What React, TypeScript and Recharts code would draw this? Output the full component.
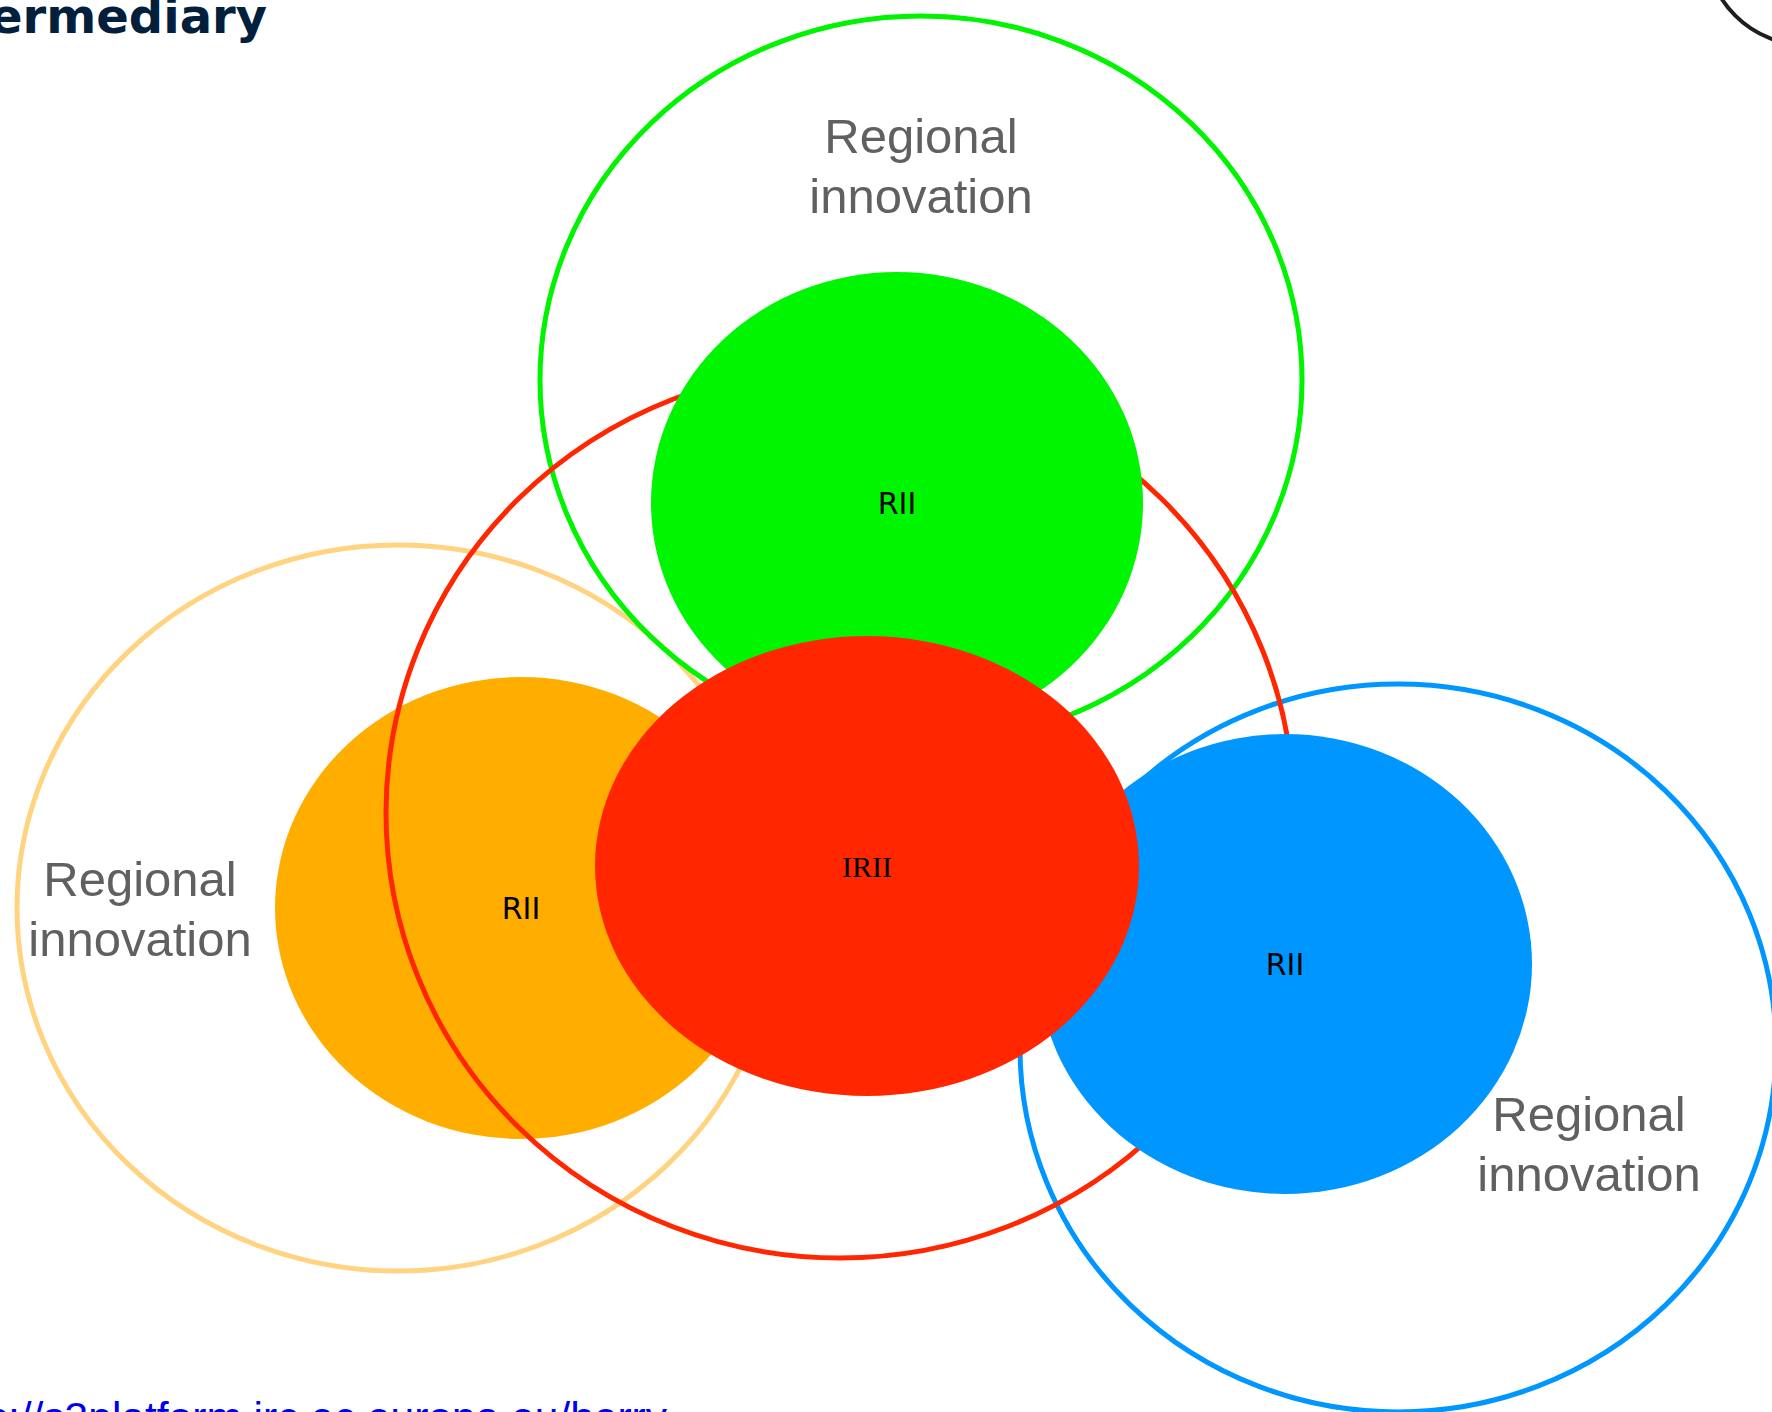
import React from "react";
import { ScatterChart, Scatter, XAxis, YAxis } from "recharts";

const W = 1772;
const H = 1412;

// Diagram coordinate system (units match the picture: 0..1772 x 0..1412)
const outlineOrange = [{ x: 398, y: 908, rx: 381, ry: 363 }];
const outlineGreen = [{ x: 921, y: 380, rx: 381, ry: 364 }];
const outlineBlue = [{ x: 1398, y: 1048, rx: 378, ry: 364 }];
const outlineRed = [{ x: 840, y: 813, rx: 454, ry: 445 }];
const outlineArc = [{ x: 1806, y: -55, rx: 100, ry: 100 }];

const fillOrange = [{ x: 521, y: 908, rx: 246, ry: 231 }];
const fillGreen = [{ x: 897, y: 503, rx: 246, ry: 231 }];
const fillBlue = [{ x: 1285, y: 964, rx: 247, ry: 230 }];
const fillRed = [{ x: 867, y: 866, rx: 272, ry: 230 }];

const innerLabels = [
  { x: 897, y: 503, text: "RII", serif: false },
  { x: 521, y: 908, text: "RII", serif: false },
  { x: 1285, y: 964, text: "RII", serif: false },
  { x: 867, y: 866, text: "IRII", serif: true },
];

const regionLines = ["Regional", "innovation"];
const regionLabels = [
  { x: 921, y: 153 },
  { x: 140, y: 896 },
  { x: 1589, y: 1131 },
];

const titleText = [{ x: 267, y: 33, text: "ermediary" }];
const linkText = [{ x: 667, y: 1432, text: "https://s3platform.jrc.ec.europa.eu/herry" }];

const COLORS = {
  orangeLine: "#FFD37F",
  greenLine: "#00F400",
  blueLine: "#0096FF",
  redLine: "#FF2600",
  orange: "#FFAE00",
  green: "#00F500",
  blue: "#0096FF",
  red: "#FF2600",
};

const SX = W / W;
const SY = H / H;

const outlineShape = (color: string, sw: number) => (props: any) => {
  const { cx, cy, payload } = props;
  return (
    <ellipse
      cx={cx}
      cy={cy}
      rx={payload.rx * SX}
      ry={payload.ry * SY}
      fill="none"
      stroke={color}
      strokeWidth={sw}
    />
  );
};

const fillShape = (color: string) => (props: any) => {
  const { cx, cy, payload } = props;
  return <ellipse cx={cx} cy={cy} rx={payload.rx * SX} ry={payload.ry * SY} fill={color} />;
};

const innerLabelShape = (props: any) => {
  const { cx, cy, payload } = props;
  return (
    <text
      x={cx}
      y={cy}
      textAnchor="middle"
      dominantBaseline="central"
      fontFamily={payload.serif ? "Liberation Serif, serif" : "DejaVu Sans, sans-serif"}
      fontSize={payload.serif ? 30 : 30}
      fill="#000"
    >
      {payload.text}
    </text>
  );
};

const regionShape = (props: any) => {
  const { cx, cy } = props;
  return (
    <text
      x={cx}
      y={cy}
      textAnchor="middle"
      fontFamily="Liberation Sans, Arial, sans-serif"
      fontSize={49}
      fill="#606060"
    >
      {regionLines.map((l, i) => (
        <tspan key={i} x={cx} dy={i === 0 ? 0 : 60}>
          {l}
        </tspan>
      ))}
    </text>
  );
};

const titleShape = (props: any) => {
  const { cx, cy, payload } = props;
  return (
    <text
      x={cx}
      y={cy}
      textAnchor="end"
      fontFamily="DejaVu Sans, sans-serif"
      fontWeight="bold"
      fontSize={48}
      fill="#02203C"
    >
      {payload.text}
    </text>
  );
};

const linkShape = (props: any) => {
  const { cx, cy, payload } = props;
  return (
    <text
      x={cx}
      y={cy}
      textAnchor="end"
      fontFamily="Liberation Sans, Arial, sans-serif"
      fontSize={42.5}
      fill="#0000EE"
    >
      {payload.text}
    </text>
  );
};

export default function App() {
  return (
    <div style={{ position: "absolute", left: 0, top: 0, width: W, height: H, background: "#fff" }}>
      <ScatterChart width={W} height={H} margin={{ top: 0, right: 0, bottom: 0, left: 0 }}>
        <XAxis type="number" dataKey="x" domain={[0, W]} hide allowDataOverflow />
        <YAxis type="number" dataKey="y" domain={[0, H]} reversed hide allowDataOverflow />
        <Scatter data={outlineOrange} shape={outlineShape(COLORS.orangeLine, 5)} isAnimationActive={false} />
        <Scatter data={outlineGreen} shape={outlineShape(COLORS.greenLine, 5)} isAnimationActive={false} />
        <Scatter data={outlineBlue} shape={outlineShape(COLORS.blueLine, 5)} isAnimationActive={false} />
        <Scatter data={fillOrange} shape={fillShape(COLORS.orange)} isAnimationActive={false} />
        <Scatter data={outlineRed} shape={outlineShape(COLORS.redLine, 5)} isAnimationActive={false} />
        <Scatter data={fillGreen} shape={fillShape(COLORS.green)} isAnimationActive={false} />
        <Scatter data={fillBlue} shape={fillShape(COLORS.blue)} isAnimationActive={false} />
        <Scatter data={fillRed} shape={fillShape(COLORS.red)} isAnimationActive={false} />
        <Scatter data={outlineArc} shape={outlineShape("#1e1e1e", 4)} isAnimationActive={false} />
        <Scatter data={innerLabels} shape={innerLabelShape} isAnimationActive={false} />
        <Scatter data={regionLabels} shape={regionShape} isAnimationActive={false} />
        <Scatter data={titleText} shape={titleShape} isAnimationActive={false} />
        <Scatter data={linkText} shape={linkShape} isAnimationActive={false} />
      </ScatterChart>
    </div>
  );
}
